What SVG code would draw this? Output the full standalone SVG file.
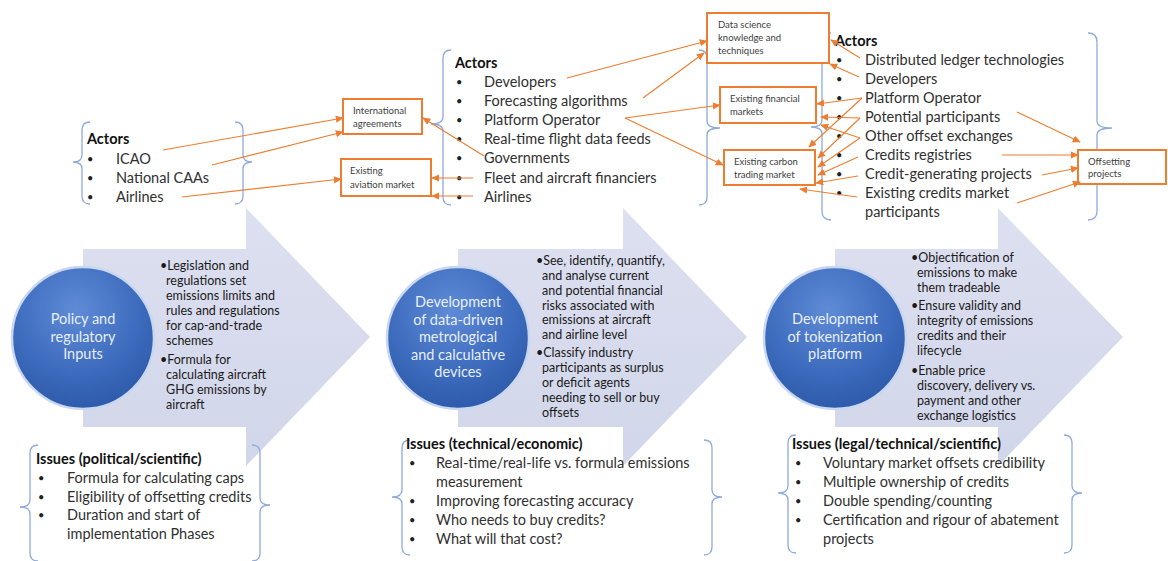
<svg xmlns="http://www.w3.org/2000/svg" width="1168" height="561" viewBox="0 0 1168 561">
<defs>
<style>
.t{font-family:Lato,"Liberation Sans",sans-serif;fill:#303030}
.lst{font-size:14.5px}
.bul{font-size:11px;fill:#202020}
.hd{font-size:14.5px;font-weight:bold;fill:#111}
.ar{font-size:12.5px;fill:#1a1a1a}
.ci{font-size:14.5px;fill:#e8eef8;text-anchor:middle}
.bx{font-size:9.5px;fill:#404040}
.brace{fill:none;stroke:#8faadc;stroke-width:1.3}
.box{fill:#fff;stroke:#ed7d31;stroke-width:2}
.cn{fill:none;stroke:#ed7d31;stroke-width:1.1}
.arrow{fill:url(#ag)}
.circ{fill:url(#cg);stroke:#c9d7f0;stroke-width:2.5}
</style>
<linearGradient id="ag" x1="0" y1="0" x2="0" y2="1">
<stop offset="0" stop-color="#dde0f0"/>
<stop offset="1" stop-color="#d1d6ea"/>
</linearGradient>
<radialGradient id="cg" cx="0.45" cy="0.3" r="0.75">
<stop offset="0" stop-color="#5f8bd6"/>
<stop offset="0.6" stop-color="#3d6bbd"/>
<stop offset="1" stop-color="#2b58a7"/>
</radialGradient>
<marker id="ah" viewBox="0 0 10 10" refX="9" refY="5" markerWidth="8" markerHeight="8" orient="auto" markerUnits="userSpaceOnUse">
<path d="M0,0.5 L10,5 L0,9.5 z" fill="#ed7d31"/>
</marker>
</defs>
<rect width="1168" height="561" fill="#fff"/>

<g id="stage1">
<path class="arrow" d="M83,249 H246 V208 L370,337 L246,466 V427 H83 Z"/>
<circle class="circ" cx="83" cy="338" r="71"/>
<text class="t ci" x="83"><tspan x="83" y="324">Policy and</tspan><tspan x="83" y="341.5">regulatory</tspan><tspan x="83" y="359">Inputs</tspan></text>
<text class="t ar"><tspan x="160" y="270">•Legislation and</tspan><tspan x="166" y="285">regulations set</tspan><tspan x="166" y="300">emissions limits and</tspan><tspan x="166" y="314.5">rules and regulations</tspan><tspan x="166" y="329.5">for cap-and-trade</tspan><tspan x="166" y="344.5">schemes</tspan><tspan x="160" y="364">•Formula for</tspan><tspan x="166" y="379">calculating aircraft</tspan><tspan x="166" y="393.5">GHG emissions by</tspan><tspan x="166" y="408.5">aircraft</tspan></text>
</g>

<g id="stage2">
<path class="arrow" d="M458,249 H623 V208 L747,337 L623,466 V427 H458 Z"/>
<circle class="circ" cx="458" cy="338" r="71"/>
<text class="t ci"><tspan x="458" y="307">Development</tspan><tspan x="458" y="324.5">of data-driven</tspan><tspan x="458" y="342">metrological</tspan><tspan x="458" y="359.5">and calculative</tspan><tspan x="458" y="377">devices</tspan></text>
<text class="t ar"><tspan x="536" y="265">•See, identify, quantify,</tspan><tspan x="542" y="280">and analyse current</tspan><tspan x="542" y="294.5">and potential financial</tspan><tspan x="542" y="309.5">risks associated with</tspan><tspan x="542" y="324">emissions at aircraft</tspan><tspan x="542" y="339">and airline level</tspan><tspan x="536" y="357">•Classify industry</tspan><tspan x="542" y="372">participants as surplus</tspan><tspan x="542" y="387">or deficit agents</tspan><tspan x="542" y="402">needing to sell or buy</tspan><tspan x="542" y="416.5">offsets</tspan></text>
</g>

<g id="stage3">
<path class="arrow" d="M835,249 H998 V208 L1123,337 L998,466 V427 H835 Z"/>
<circle class="circ" cx="835" cy="338" r="71"/>
<text class="t ci"><tspan x="835" y="324">Development</tspan><tspan x="835" y="341.5">of tokenization</tspan><tspan x="835" y="359">platform</tspan></text>
<text class="t ar"><tspan x="911" y="262">•Objectification of</tspan><tspan x="917" y="277">emissions to make</tspan><tspan x="917" y="292">them tradeable</tspan><tspan x="911" y="309.5">•Ensure validity and</tspan><tspan x="917" y="325">integrity of emissions</tspan><tspan x="917" y="339.5">credits and their</tspan><tspan x="917" y="354.5">lifecycle</tspan><tspan x="911" y="375">•Enable price</tspan><tspan x="917" y="390">discovery, delivery vs.</tspan><tspan x="917" y="404.5">payment and other</tspan><tspan x="917" y="419.5">exchange logistics</tspan></text>
</g>

<g id="actors1">
<path class="brace" d="M90,122 Q82,122 82,130 L82,155 Q82,162 73,162 Q82,162 82,169 L82,196 Q82,204 90,204"/>
<path class="brace" d="M235,122 Q243,122 243,130 L243,155 Q243,162 252,162 Q243,162 243,169 L243,196 Q243,204 235,204"/>
<text class="t hd" x="87" y="144">Actors</text>
<text class="t bul"><tspan x="87" y="163">•</tspan><tspan x="87" y="182">•</tspan><tspan x="87" y="201">•</tspan></text>
<text class="t lst"><tspan x="116" y="164">ICAO</tspan><tspan x="116" y="183">National CAAs</tspan><tspan x="116" y="202">Airlines</tspan></text>
</g>

<g id="actors2">
<path class="brace" d="M451,50 Q443,50 443,58 L443,117 Q443,124 431,124 Q443,124 443,131 L443,197 Q443,205 451,205"/>
<path class="brace" d="M699,50 Q707,50 707,58 L707,121 Q707,128 720,128 Q707,128 707,135 L707,197 Q707,205 699,205"/>
<text class="t hd" x="455" y="68">Actors</text>
<text class="t bul"><tspan x="456" y="86">•</tspan><tspan x="456" y="105">•</tspan><tspan x="456" y="124">•</tspan><tspan x="456" y="143">•</tspan><tspan x="456" y="162">•</tspan><tspan x="456" y="182">•</tspan><tspan x="456" y="201">•</tspan></text>
<text class="t lst"><tspan x="484" y="87">Developers</tspan><tspan x="484" y="106">Forecasting algorithms</tspan><tspan x="484" y="125">Platform Operator</tspan><tspan x="484" y="144">Real-time flight data feeds</tspan><tspan x="484" y="163">Governments</tspan><tspan x="484" y="183">Fleet and aircraft financiers</tspan><tspan x="484" y="202">Airlines</tspan></text>
</g>

<g id="actors3">
<path class="brace" d="M831,33 Q822,33 822,42 L822,120 Q822,127 811,127 Q822,127 822,134 L822,211 Q822,220 831,220"/>
<path class="brace" d="M1088,33 Q1097,33 1097,42 L1097,121 Q1097,128 1112,128 Q1097,128 1097,135 L1097,211 Q1097,220 1088,220"/>
<text class="t hd" x="835" y="46">Actors</text>
<text class="t bul"><tspan x="836" y="64">•</tspan><tspan x="836" y="83">•</tspan><tspan x="836" y="102">•</tspan><tspan x="836" y="121">•</tspan><tspan x="836" y="140">•</tspan><tspan x="836" y="159">•</tspan><tspan x="836" y="178">•</tspan><tspan x="836" y="197">•</tspan></text>
<text class="t lst"><tspan x="865" y="65">Distributed ledger technologies</tspan><tspan x="865" y="84">Developers</tspan><tspan x="865" y="103">Platform Operator</tspan><tspan x="865" y="122">Potential participants</tspan><tspan x="865" y="141">Other offset exchanges</tspan><tspan x="865" y="160">Credits registries</tspan><tspan x="865" y="179">Credit-generating projects</tspan><tspan x="865" y="198">Existing credits market</tspan><tspan x="865" y="217">participants</tspan></text>
</g>

<g id="box-international">
<rect class="box" x="343" y="99" width="79" height="35"/>
<text class="t bx"><tspan x="353" y="114">International</tspan><tspan x="353" y="127">agreements</tspan></text>
</g>
<g id="box-aviation">
<rect class="box" x="341" y="159" width="90" height="37"/>
<text class="t bx"><tspan x="350" y="174">Existing</tspan><tspan x="350" y="188">aviation market</tspan></text>
</g>
<g id="box-datascience">
<rect class="box" x="707" y="13" width="122" height="50"/>
<text class="t bx"><tspan x="718" y="28">Data science</tspan><tspan x="718" y="41">knowledge and</tspan><tspan x="718" y="54">techniques</tspan></text>
</g>
<g id="box-financial">
<rect class="box" x="720" y="87" width="96" height="36"/>
<text class="t bx"><tspan x="730" y="102">Existing financial</tspan><tspan x="730" y="115">markets</tspan></text>
</g>
<g id="box-carbon">
<rect class="box" x="724" y="150" width="91" height="35"/>
<text class="t bx"><tspan x="734" y="165">Existing carbon</tspan><tspan x="734" y="178">trading market</tspan></text>
</g>
<g id="box-offsetting">
<rect class="box" x="1078" y="150" width="88" height="34"/>
<text class="t bx"><tspan x="1088" y="165">Offsetting</tspan><tspan x="1088" y="177">projects</tspan></text>
</g>

<g id="issues1">
<path class="brace" d="M38,445 Q30,445 30,453 L30,500 Q30,507 20,507 Q30,507 30,514 L30,553 Q30,561 38,561"/>
<path class="brace" d="M252,445 Q260,445 260,453 L260,498 Q260,505 270,505 Q260,505 260,512 L260,553 Q260,561 252,561"/>
<text class="t hd" x="36" y="464">Issues (political/scientific)</text>
<text class="t bul"><tspan x="38" y="482">•</tspan><tspan x="38" y="501">•</tspan><tspan x="38" y="519">•</tspan></text>
<text class="t lst"><tspan x="67" y="483">Formula for calculating caps</tspan><tspan x="67" y="502">Eligibility of offsetting credits</tspan><tspan x="67" y="520">Duration and start of</tspan><tspan x="67" y="539">implementation Phases</tspan></text>
</g>

<g id="issues2">
<path class="brace" d="M410,440 Q402,440 402,448 L402,490 Q402,497 392,497 Q402,497 402,504 L402,547 Q402,555 410,555"/>
<path class="brace" d="M704,440 Q712,440 712,448 L712,490 Q712,497 722,497 Q712,497 712,504 L712,547 Q712,555 704,555"/>
<text class="t hd" x="406" y="449">Issues (technical/economic)</text>
<text class="t bul"><tspan x="409" y="467">•</tspan><tspan x="409" y="505">•</tspan><tspan x="409" y="524">•</tspan><tspan x="409" y="543">•</tspan></text>
<text class="t lst"><tspan x="436" y="468">Real-time/real-life vs. formula emissions</tspan><tspan x="436" y="487">measurement</tspan><tspan x="436" y="506">Improving forecasting accuracy</tspan><tspan x="436" y="525">Who needs to buy credits?</tspan><tspan x="436" y="544">What will that cost?</tspan></text>
</g>

<g id="issues3">
<path class="brace" d="M796,435 Q788,435 788,443 L788,486 Q788,493 778,493 Q788,493 788,500 L788,545 Q788,553 796,553"/>
<path class="brace" d="M1064,435 Q1072,435 1072,443 L1072,486 Q1072,493 1082,493 Q1072,493 1072,500 L1072,545 Q1072,553 1064,553"/>
<text class="t hd" x="792" y="449">Issues (legal/technical/scientific)</text>
<text class="t bul"><tspan x="795" y="467">•</tspan><tspan x="795" y="486">•</tspan><tspan x="795" y="505">•</tspan><tspan x="795" y="524">•</tspan></text>
<text class="t lst"><tspan x="823" y="468">Voluntary market offsets credibility</tspan><tspan x="823" y="487">Multiple ownership of credits</tspan><tspan x="823" y="506">Double spending/counting</tspan><tspan x="823" y="525">Certification and rigour of abatement</tspan><tspan x="823" y="544">projects</tspan></text>
</g>

<g id="connectors">
<line class="cn" x1="163" y1="150" x2="343" y2="118" marker-end="url(#ah)"/>
<line class="cn" x1="212" y1="165" x2="343" y2="132" marker-end="url(#ah)"/>
<line class="cn" x1="182" y1="197" x2="341" y2="179" marker-end="url(#ah)"/>
<line class="cn" x1="484" y1="156" x2="423" y2="118" marker-end="url(#ah)"/>
<line class="cn" x1="473" y1="178" x2="432" y2="178" marker-end="url(#ah)"/>
<line class="cn" x1="473" y1="196" x2="432" y2="196" marker-end="url(#ah)"/>
<line class="cn" x1="567" y1="78" x2="707" y2="41" marker-end="url(#ah)"/>
<line class="cn" x1="643" y1="98" x2="704" y2="53" marker-end="url(#ah)"/>
<line class="cn" x1="625" y1="118" x2="720" y2="105" marker-end="url(#ah)"/>
<line class="cn" x1="625" y1="118" x2="723" y2="165" marker-end="url(#ah)"/>
<line class="cn" x1="860" y1="58" x2="831" y2="40" marker-end="url(#ah)"/>
<line class="cn" x1="859" y1="77" x2="830" y2="64" marker-end="url(#ah)"/>
<line class="cn" x1="862" y1="98" x2="817" y2="104" marker-end="url(#ah)"/>
<line class="cn" x1="862" y1="98" x2="809" y2="147" marker-end="url(#ah)"/>
<line class="cn" x1="860" y1="118" x2="821" y2="117" marker-end="url(#ah)"/>
<line class="cn" x1="860" y1="118" x2="818" y2="158" marker-end="url(#ah)"/>
<line class="cn" x1="860" y1="138" x2="821" y2="125" marker-end="url(#ah)"/>
<line class="cn" x1="860" y1="138" x2="818" y2="167" marker-end="url(#ah)"/>
<line class="cn" x1="858" y1="157" x2="818" y2="175" marker-end="url(#ah)"/>
<line class="cn" x1="858" y1="176" x2="816" y2="183" marker-end="url(#ah)"/>
<line class="cn" x1="857" y1="197" x2="800" y2="189" marker-end="url(#ah)"/>
<line class="cn" x1="1017" y1="112" x2="1080" y2="142" marker-end="url(#ah)"/>
<line class="cn" x1="1002" y1="155" x2="1078" y2="155" marker-end="url(#ah)"/>
<line class="cn" x1="1042" y1="175" x2="1078" y2="168" marker-end="url(#ah)"/>
<line class="cn" x1="1017" y1="203" x2="1080" y2="182" marker-end="url(#ah)"/>
</g>
</svg>
